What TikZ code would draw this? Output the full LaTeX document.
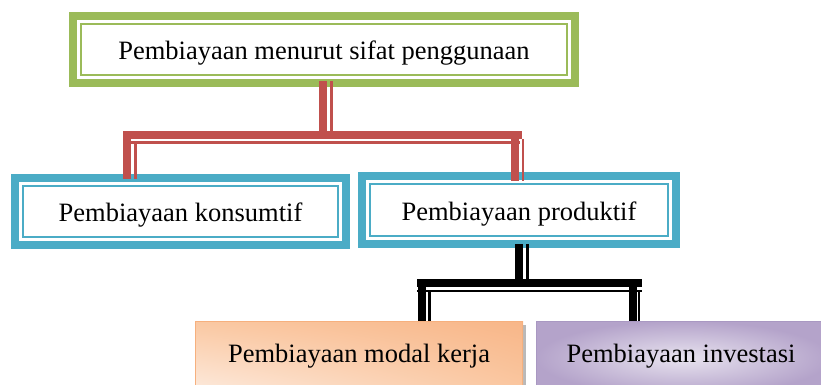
\documentclass[tikz,border=0pt]{standalone}
\usepackage{fontspec}
\setmainfont{Liberation Serif}
\usetikzlibrary{calc,shadings}
\definecolor{grn}{HTML}{9BBB59}
\definecolor{tealc}{HTML}{4BACC6}
\definecolor{redc}{HTML}{C0504D}
\definecolor{orD}{HTML}{F8B688}
\definecolor{orM}{HTML}{FAC8A2}
\definecolor{orL}{HTML}{FDECE0}
\definecolor{orB}{HTML}{F6B07E}
\definecolor{puD}{HTML}{B4A3CA}
\definecolor{puL}{HTML}{E8E3EF}
\definecolor{puB}{HTML}{A998C2}
\tikzset{
  box/.style={draw=none, inner sep=0pt, minimum width=#1, text height=26pt, text depth=6pt,
    font=\fontsize{26.5}{30}\selectfont},
  redT/.style={redc, line width=8pt},
  redt/.style={redc, line width=2.5pt},
  blkT/.style={black, line width=8pt},
  blkt/.style={black, line width=2.5pt},
}
\begin{document}
\begin{tikzpicture}[x=1pt,y=-1pt]
\useasboundingbox (0,0) rectangle (821,385);
% nodes
\node[box=510pt, minimum height=75pt] (top) at (324,49.5) {Pembiayaan menurut sifat penggunaan};
\node[box=339pt, minimum height=75pt] (L) at (180.5,211.5) {Pembiayaan konsumtif};
\node[box=322pt, minimum height=76pt] (R) at (519,210) {Pembiayaan produktif};
% bottom boxes background
\fill[gray!55] (198,325) rectangle (526,395);
\shade[upper right=orD, upper left=orM, lower left=orL, lower right=orM] (195,321) rectangle (523,395);
\draw[orB, line width=1pt] (195.5,395) -- (195.5,321.5) -- (522.5,321.5) -- (522.5,395);
\shade[inner color=puL, outer color=puD] (536,321) rectangle (830,395);
\draw[puB, line width=1pt] (536.5,395) -- (536.5,321.5) -- (830,321.5);
\node[box=328pt, minimum height=64pt, text height=24pt] (O) at (359,353) {Pembiayaan modal kerja};
\node[box=286pt, minimum height=64pt, text height=24pt] (P) at (681,353) {Pembiayaan investasi};
% double frames
\foreach \n/\c in {top/grn, L/tealc, R/tealc}{
  \draw[line width=8pt, \c] ([shift={(4pt,-4pt)}]\n.north west) rectangle ([shift={(-4pt,4pt)}]\n.south east);
  \draw[line width=2pt, \c] ([shift={(12pt,-12pt)}]\n.north west) rectangle ([shift={(-12pt,12pt)}]\n.south east);
}
% buses
\coordinate (rbus) at (0,135);
\coordinate (rbusT) at (0,142.5);
\coordinate (kbus) at (0,283);
\coordinate (kbusT) at (0,291);
% red connector
\draw[redT] ([xshift=-1pt,yshift=6pt]top.south) -- ([xshift=-1pt]top.south |- rbus);
\draw[redT] ([xshift=-57.5pt]L.north |- rbus) -- ([xshift=3pt]R.north |- rbus);
\draw[redT] ([xshift=-53.5pt,yshift=4pt]L.north |- rbus) -- ([xshift=-53.5pt,yshift=-5pt]L.north);
\draw[redT] ([xshift=-4pt,yshift=4pt]R.north |- rbus) -- ([xshift=-4pt,yshift=-9pt]R.north);
\draw[redt] ([xshift=7.5pt,yshift=6pt]top.south) -- ([xshift=7.5pt,yshift=4pt]top.south |- rbus);
\draw[redt] ([xshift=-57.5pt]L.north |- rbusT) -- ([xshift=1pt]R.north |- rbusT);
\draw[redt] ([xshift=-45pt]L.north |- rbusT) -- ([xshift=-45pt,yshift=-5pt]L.north);
\draw[redt] ([xshift=4pt,yshift=-4pt]R.north |- rbus) -- ([xshift=4pt,yshift=-9pt]R.north);
% black connector
\draw[blkT] ([yshift=4pt]R.south) -- (R.south |- kbus);
\draw[blkT] ([xshift=58pt]O.north |- kbus) -- ([xshift=-39pt]P.north |- kbus);
\draw[blkT] ([xshift=62.5pt,yshift=4pt]O.north |- kbus) -- ([xshift=62.5pt]O.north);
\draw[blkT] ([xshift=-48pt,yshift=4pt]P.north |- kbus) -- ([xshift=-48pt]P.north);
\draw[blkt] ([xshift=8.5pt,yshift=4pt]R.south) -- ([xshift=8.5pt,yshift=4pt]R.south |- kbus);
\draw[blkt] ([xshift=58pt]O.north |- kbusT) -- ([xshift=-39pt]P.north |- kbusT);
\draw[blkt] ([xshift=70.5pt,yshift=1pt]O.north |- kbusT) -- ([xshift=70.5pt]O.north);
\draw[blkt] ([xshift=-42pt,yshift=1pt]P.north |- kbusT) -- ([xshift=-42pt]P.north);
\end{tikzpicture}
\end{document}
